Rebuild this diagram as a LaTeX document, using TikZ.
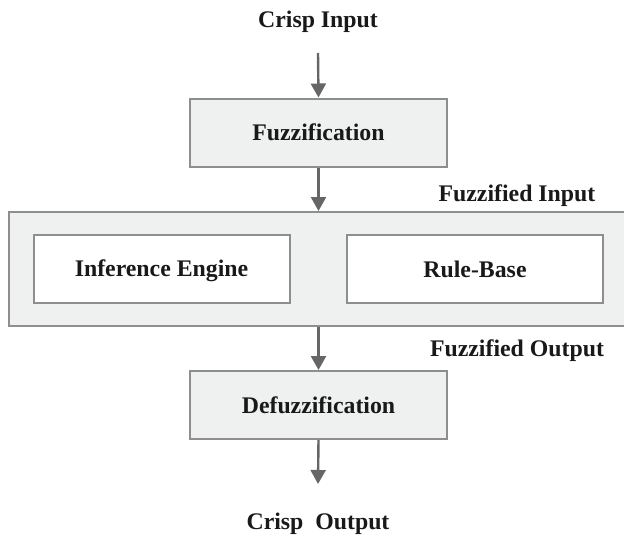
\documentclass[tikz,border=0pt]{standalone}
\usepackage{fontspec}
\setmainfont{Liberation Serif}
\usetikzlibrary{arrows.meta}
\definecolor{boxfill}{HTML}{EFF0F0}
\definecolor{boxline}{HTML}{8E8E8E}
\definecolor{arrowgray}{HTML}{666666}
\tikzset{
  lbl/.style={font=\fontsize{23.8}{28}\selectfont\bfseries, text=black!90, text height=18pt, text depth=2pt},
  stage/.style={lbl, draw=boxline, line width=2pt, fill=boxfill, minimum width=257pt, minimum height=68pt, inner sep=0pt},
  part/.style={stage, fill=white, minimum width=256pt},
  flow/.style={draw=arrowgray, line width=2.4pt, -{Triangle[width=15pt,length=14pt]}}
}
\begin{document}
\begin{tikzpicture}[x=1pt,y=-1pt]
      \useasboundingbox (0,0) rectangle (624,535);
      \node[stage, minimum width=618pt, minimum height=114pt] (infsys) at (318,269) {};
      \draw
        (318,20) node[lbl] (crispin){Crisp Input}
        (318.5,132.5) node[stage] (fuzz){Fuzzification}
        (517,193) node[lbl] (fuzzin){Fuzzified Input}
        (161.5,268.5) node[part] (infeng){Inference Engine}
        (475,269) node[part] (rulebase){Rule-Base}
        (517,348) node[lbl] (fuzzout){Fuzzified Output}
        (318.5,405) node[stage] (defuzz){Defuzzification}
        (318,521) node[lbl] (crispout){Crisp\ \ Output};
      \coordinate (instart) at (318,53);
      \coordinate (outend) at (318,484);
      \begin{scope}[flow]
        \draw (instart) to (fuzz.north);
        \draw (fuzz.south) to (infsys.north -| fuzz.south);
        \draw (infsys.south -| defuzz.north) to (defuzz.north);
        \draw (defuzz.south) to (outend);
      \end{scope}
    \end{tikzpicture}
\end{document}
